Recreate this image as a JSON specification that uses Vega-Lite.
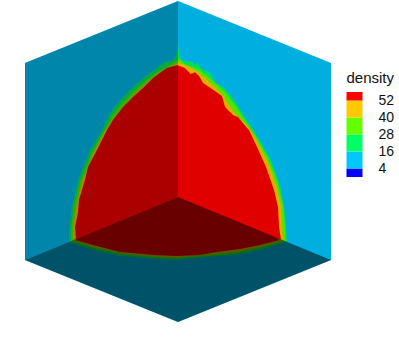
{"$schema":"https://vega.github.io/schema/vega-lite/v6.json","width":399,"height":354,"padding":0,"autosize":"none","background":"white","view":{"stroke":null},
"config":{"legend":{"gradientLength":85,"gradientVerticalMaxLength":85,"gradientVerticalMinLength":85}},
"data":{"values":[
{"poly":"L10","face":"left","level":10,"pts":[[25,63],[178,1],[178,197],[150,190],[80,238],[69,244],[27,260],[25,260]]},
{"poly":"R10","face":"right","level":10,"pts":[[178,1],[331,63],[331,260],[329,260],[287,244],[276,238],[206,190],[178,197]]},
{"poly":"F10","face":"floor","level":10,"pts":[[25,260],[68,242],[178,215],[288,242],[331,260],[178,322]]},
{"poly":"L22","face":"left","level":22,"pts":[[69,242],[69,230],[72,207],[78,180],[90,150],[102,130],[110,113],[120,100],[133,87],[143,78],[157,68],[163,63],[173,60],[176,56],[178,43],[178,197],[150,190]]},
{"poly":"L34","face":"left","level":34,"pts":[[71,241],[71,230],[74,208],[80,182],[92,152],[104,131],[112,116],[123,102],[135,90],[146,80],[160,70],[168,66],[178,60],[178,197],[150,190]]},
{"poly":"L46","face":"left","level":46,"pts":[[73,240],[73,228],[76,208],[82,182],[94,152],[105,131],[114,118],[125,105],[136,93],[149,81],[162,71],[170,67],[178,63],[178,197],[150,190]]},
{"poly":"L60","face":"left","level":60,"pts":[[76,239],[75,227],[78,213],[79,200],[85,180],[88,167],[97,150],[107,130],[113,120],[123,107],[133,97],[143,88],[153,78],[166.7,68],[178,65],[178,205],[90,242]]},
{"poly":"R22","face":"right","level":22,"pts":[[178,43],[179.3,56.7],[183,60.7],[193,62],[195,65],[198,62],[200,68],[210,73],[215,82],[223,87],[233,98],[242,113],[253,129],[270,158],[280,185],[285,213],[287,242],[206,190],[178,197]]},
{"poly":"R34","face":"right","level":34,"pts":[[178,58],[185,64],[200,70],[212,80],[225,92],[237,108],[248,125],[258,140],[268,158],[277,180],[283,205],[285,225],[285.5,241],[206,190],[178,197]]},
{"poly":"R46","face":"right","level":46,"pts":[[178,62],[187,66],[195,70],[205,78],[215,87],[224,97],[232,110],[243,122],[251,130],[260,147],[269,165],[277,188],[281,207],[282,227],[283,240],[206,190],[178,197]]},
{"poly":"R60","face":"right","level":60,"pts":[[178,65.5],[185,68],[190.7,74],[195,72.3],[199,76],[203,83],[212,89],[222,96],[225,107],[233,115],[238,117],[247,128],[249,130],[257,147],[266,167],[274,190],[278,207],[279,227],[281,239.5],[266,242],[178,205]]},
{"poly":"F22","face":"floor","level":22,"pts":[[68,242],[93,250],[120,256],[153,259],[177,260],[207,257],[237,255],[260,250],[288,242],[178,215]]},
{"poly":"F34","face":"floor","level":34,"pts":[[70,241],[93,248],[120,254],[153,257.5],[177,258.5],[207,256],[237,253],[260,248],[286,241],[178,215]]},
{"poly":"F46","face":"floor","level":46,"pts":[[73,240],[93,246.5],[120,253],[153,256],[177,257],[207,254.5],[240,251],[260,246.5],[283,240],[178,215]]},
{"poly":"F60","face":"floor","level":60,"pts":[[75,240],[93,245],[120,252],[153,255],[177,256],[200,255],[217,252],[240,249],[260,245],[280,240],[178,197]]},
{"poly":"SL","face":"left","level":0,"pts":[[25,63],[178,1],[178,197],[25,260]]},
{"poly":"SR","face":"right","level":0,"pts":[[178,1],[331,63],[331,260],[178,197]]},
{"poly":"SF","face":"floor","level":0,"pts":[[25,260],[178,197],[331,260],[178,322]]}
]},
"transform":[{"flatten":["pts"]},{"window":[{"op":"row_number","as":"i"}],"groupby":["poly"]},{"calculate":"datum.pts[0]","as":"x"},{"calculate":"datum.pts[1]","as":"y"}],
"encoding":{
"x":{"field":"x","type":"quantitative","scale":{"domain":[0,399]},"axis":null},
"y":{"field":"y","type":"quantitative","scale":{"domain":[354,0]},"axis":null},
"order":{"field":"i","type":"quantitative"},
"detail":{"field":"poly"}},
"layer":[
{"transform":[{"filter":"datum.level>0"}],"mark":{"type":"line","stroke":null,"strokeWidth":0},
"encoding":{"fill":{"field":"level","type":"quantitative","scale":{"type":"threshold","domain":[4,10,16,22,28,34,40,46,52],"range":["#0000ff","#00c8ff","#00c8ff","#00ff64","#00ff64","#64ff00","#64ff00","#ffc800","#ffc800","#ff0000"]},
"legend":{"title":"density","orient":"none","legendX":346.5,"legendY":71,"direction":"vertical","gradientLength":85,"gradientThickness":22,"titleFont":"Liberation Sans","titleFontSize":15,"titleFontWeight":"normal","titleColor":"#111","labelFont":"Liberation Sans","labelFontSize":14,"labelColor":"#111","labelOffset":16,"titlePadding":6,"labelExpr":"indexof([4,16,28,40,52],datum.value)>=0 ? datum.label : ''","encode":{"labels":{"update":{"dy":{"value":4}}}}}}}},
{"transform":[{"filter":"datum.level==0"}],"mark":{"type":"line","stroke":null,"strokeWidth":0,"fill":"black"},
"encoding":{"opacity":{"field":"face","type":"ordinal","scale":{"type":"ordinal","domain":["right","left","floor"],"range":[0.12,0.33,0.59]},"legend":null}}}
]}
